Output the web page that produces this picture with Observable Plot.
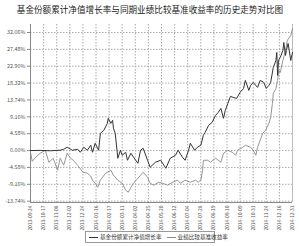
<!DOCTYPE html>
<html><head><meta charset="utf-8">
<script src="https://cdn.jsdelivr.net/npm/d3@7"></script>
<script src="https://cdn.jsdelivr.net/npm/@observablehq/plot@0.6"></script>
<style>
body{margin:0;background:#fff;font-family:"Noto Sans CJK SC","DejaVu Sans",sans-serif;}
#wrap{position:relative;width:300px;height:246px;overflow:hidden;}
#title{position:absolute;top:3px;left:0;width:300px;text-align:center;font-size:8.6px;color:#222;line-height:12px;white-space:nowrap;}
#chart{position:absolute;top:18px;left:0;}
#legend{position:absolute;top:231px;left:85px;width:130px;height:12px;border:1px solid #999;font-size:5.6px;color:#333;line-height:12px;white-space:nowrap;display:flex;align-items:center;gap:5px;padding-left:3px;box-sizing:border-box;background:#fff;}
.sw{display:inline-block;width:9px;height:0;border-top:1px solid;vertical-align:middle;margin-right:2px;}
</style></head>
<body><div id="wrap">
<div id="title"></div>
<div id="chart"></div>
<div id="legend"></div>
</div>
<script>
const titleText = "基金份额累计净值增长率与同期业绩比较基准收益率的历史走势对比图";
const seriesNames = ["基金份额累计净值增长率", "业绩比较基准收益率"];
const dateLabels = ["2013-09-24","2013-10-17","2013-11-08","2013-12-02","2013-12-24","2014-01-16","2014-02-17","2014-03-11","2014-04-02","2014-04-25","2014-05-20","2014-06-12","2014-07-04","2014-07-28","2014-08-19","2014-09-10","2014-10-09","2014-10-31","2014-11-24","2014-12-16","2014-12-31"];
const yTickValues = [-13.74,-9.16,-4.58,0,4.58,9.16,13.74,18.32,22.90,27.48,32.06];

// trading-day index and cumulative return (%)
const fundDays = [0,11,23,34,38,42,46,48,54,57,61,65,69,71,74,78,80,84,88,89,92,94,95,97,100,103,105,109,111,115,118,123,126,129,134,137,143,149,155,160,166,169,174,177,181,183,188,191,195,198,200,204,208,212,215,218,221,223,226,229,232,236,240,244,246,250,252,255,260,263,267,270,273,275,278,281,282,283,284,286,289,290,292,293,295,298,300];
const fundValues = [0,0.05,-0.05,0.1,0.35,0.89,0.35,0.08,0.35,-0.46,0.89,0.08,1.44,-0.46,1.98,0.08,4.69,5.5,7.4,8.75,7.4,8.21,6.04,4.69,-2.09,0.08,-1.27,-0.46,-2.63,-0.73,-1.82,-3.44,0.08,0.62,-2.63,-4.53,-3.17,-2.63,-4.8,-2.09,-1.27,0.08,-1.82,-2.63,0.08,1.98,0.08,0.89,1.44,4.15,4.96,6.86,7.67,9.57,10.38,11.46,8.75,10.92,12.82,14.72,14.44,14.17,15.8,16.88,19.05,16.34,17.7,18.51,17.15,19.05,18.51,16.88,17.7,18.51,22.58,24.47,26.64,20.41,24.47,25.28,27.18,29.35,25.83,27.18,29.08,24.47,26.64];
const benchDays = [0,2,6,11,17,21,26,31,34,38,42,46,49,54,60,65,69,71,74,77,80,86,92,95,100,105,109,112,115,118,123,126,129,134,137,141,147,151,157,163,168,172,177,183,189,192,195,197,198,203,206,212,218,221,226,231,235,237,243,246,252,255,258,260,263,266,269,273,275,277,278,281,283,284,286,289,292,294,298,300];
const benchValues = [-0.5,-2.9,-1.82,-0.73,0.08,-3.17,-2.09,-5.34,-2.09,-3.98,-0.73,-2.09,-2.63,-3.98,-5.88,-6.15,-6.96,-8.05,-8.86,-9.95,-8.05,-6.15,-5.34,-6.69,-8.05,-8.86,-10.76,-11.3,-9.95,-8.86,-7.51,-6.69,-5.88,-7.24,-8.86,-9.4,-8.59,-8.86,-9.4,-8.59,-8.05,-8.86,-8.05,-8.59,-8.05,-8.59,-8.05,-5.34,-2.63,-2.63,-3.17,-2.09,-3.17,-0.73,0.08,-0.46,-1.27,0.08,0.89,1.44,0.89,0.08,-1.27,0.89,2.79,4.69,5.5,7.4,9.02,12.82,15.53,16.88,19.05,21.76,21.22,24.47,27.18,29.89,31.24,33.14];

const fund = fundDays.map((d,i)=>({d, v: fundValues[i]}));
const bench = benchDays.map((d,i)=>({d, v: benchValues[i]}));
const xTicks = dateLabels.map((_,i)=>i*15);

document.getElementById("title").textContent = titleText;
const font = '"Noto Sans CJK SC","DejaVu Sans",sans-serif';
const chart = Plot.plot({
  width:300, height:228,
  marginTop:6, marginBottom:44, marginLeft:30, marginRight:8,
  x:{domain:[0,300], label:null},
  y:{domain:[-14.1,34.23], label:null},
  style:{fontFamily:font, fontSize:"5.4px", color:"#555", background:"#fff", overflow:"visible"},
  marks:[
    Plot.gridY(yTickValues,{stroke:"#aaa", strokeOpacity:1, strokeDasharray:"1.5,1.5"}),
    Plot.gridX(xTicks,{stroke:"#aaa", strokeOpacity:1, strokeDasharray:"1.5,1.5"}),
    Plot.axisY(yTickValues,{tickFormat:d=>d.toFixed(2)+"%", tickSize:3, tickPadding:2, stroke:"#888", fill:"#555", label:null}),
    Plot.axisX(xTicks,{tickFormat:i=>dateLabels[i/15], tickRotate:-90, tickSize:0, tickPadding:3, fill:"#555", fontSize:"4.9px", label:null}),
    Plot.ruleX([0],{stroke:"#888"}),
    Plot.ruleX([300],{stroke:"#bbb"}),
    Plot.ruleY([-14.1],{stroke:"#888"}),
    Plot.line(bench,{x:"d", y:"v", stroke:"#8a8a8a", strokeWidth:0.9}),
    Plot.line(fund,{x:"d", y:"v", stroke:"#333", strokeWidth:1})
  ]
});
document.getElementById("chart").appendChild(chart);

const lg = document.getElementById("legend");
[["#333",seriesNames[0]],["#8a8a8a",seriesNames[1]]].forEach(([c,t])=>{
  const s=document.createElement("span");
  s.innerHTML=`<span class="sw" style="border-color:${c}"></span>`;
  s.appendChild(document.createTextNode(t));
  lg.appendChild(s);
});
</script>
</body></html>
